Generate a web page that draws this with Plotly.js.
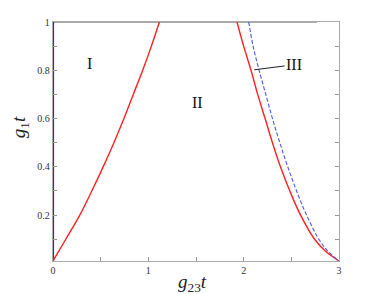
<!DOCTYPE html>
<html><head><meta charset="utf-8">
<script src="https://cdn.plot.ly/plotly-3.0.1.min.js"></script>
<style>body{margin:0;background:#fff}#c{width:374px;height:294px}</style>
</head><body><div id="c"></div><script>
// Boundary I/II (red, left)
const redLeftX = [0, 0.134, 0.281, 0.407, 0.526, 0.639, 0.744, 0.842, 0.941, 1.032, 1.116];
const redLeftY = [0.01, 0.1, 0.2, 0.3, 0.4, 0.5, 0.6, 0.7, 0.8, 0.9, 1.0];
// Boundary II/III (red, right)
const redRightX = [1.93, 2.0, 2.077, 2.147, 2.225, 2.302, 2.386, 2.484, 2.597, 2.744, 2.86, 3.0];
const redRightY = [1.0, 0.9, 0.8, 0.7, 0.6, 0.5, 0.4, 0.3, 0.2, 0.1, 0.05, 0.01];
// Dashed blue boundary
const blueDashX = [2.053, 2.099, 2.162, 2.232, 2.302, 2.379, 2.463, 2.555, 2.66, 2.789, 2.885, 3.0];
const blueDashY = [1.0, 0.9, 0.8, 0.7, 0.6, 0.5, 0.4, 0.3, 0.2, 0.1, 0.05, 0.01];
// Blue vertical at g23 t = 0
const blueVertX = [0, 0];
const blueVertY = [0.01, 1.0];
// Top dark line
const topX = [0, 2.77];
const topY = [1, 1];
const xTickVals = [0, 1, 2, 3];
const xTickText = ['0', '1', '2', '3'];
const yTickVals = [0.2, 0.4, 0.6, 0.8, 1];
const yTickText = ['0.2', '0.4', '0.6', '0.8', '1'];
const regionLabels = ['I', 'II', 'III'];
const regionX = [0.38, 1.52, 2.53];
const regionY = [0.83, 0.665, 0.823];
const xTitle = '<i>g</i><sub>23</sub><i>t</i>';
const yTitle = '<i>g</i><sub>1</sub><i>t</i>';

const traces = [
  {x: topX, y: topY, mode: 'lines', line: {color: '#555', width: 1.2}},
  {x: blueVertX, y: blueVertY, mode: 'lines', line: {color: '#2233cc', width: 2.2}},
  {x: redLeftX, y: redLeftY, mode: 'lines', line: {color: '#ff2020', width: 1.4, shape: 'spline'}},
  {x: redRightX, y: redRightY, mode: 'lines', line: {color: '#ff2020', width: 1.4, shape: 'spline'}},
  {x: blueDashX, y: blueDashY, mode: 'lines', line: {color: '#4a5ae8', width: 1.1, dash: '4px,2px', shape: 'spline'}}
];
const serif = 'Liberation Serif, Times New Roman, serif';
const layout = {
  width: 374, height: 294,
  margin: {l: 53, r: 35, t: 22, b: 33},
  showlegend: false,
  paper_bgcolor: '#fff', plot_bgcolor: '#fff',
  xaxis: {
    range: [0, 3], tickvals: xTickVals, ticktext: xTickText,
    ticks: 'inside', ticklen: 4, tickcolor: '#999', showgrid: false, zeroline: false,
    showline: true, linecolor: '#aaa', linewidth: 1.2, mirror: true,
    minor: {dtick: 0.5, ticks: 'inside', ticklen: 4, tickcolor: '#999'},
    tickfont: {family: serif, size: 10, color: '#333'}
  },
  yaxis: {
    range: [0.01, 1], tickvals: yTickVals, ticktext: yTickText,
    ticks: 'inside', ticklen: 4, tickcolor: '#999', showgrid: false, zeroline: false,
    showline: true, linecolor: '#aaa', linewidth: 1.2, mirror: 'ticks',
    minor: {dtick: 0.1, tick0: 0, ticks: 'inside', ticklen: 4, tickcolor: '#999'},
    tickfont: {family: serif, size: 10, color: '#333'}
  },
  annotations: [
    {x: regionX[0], y: regionY[0], text: regionLabels[0], showarrow: false, font: {family: serif, size: 16, color: '#111'}},
    {x: regionX[1], y: regionY[1], text: regionLabels[1], showarrow: false, font: {family: serif, size: 16, color: '#111'}},
    {x: 2.11, y: 0.802, ax: regionX[2], ay: regionY[2], axref: 'x', ayref: 'y', text: regionLabels[2],
     showarrow: true, arrowhead: 0, arrowwidth: 1, arrowcolor: '#222', font: {family: serif, size: 16, color: '#111'}},
    {xref: 'paper', yref: 'paper', x: 0.487, y: -0.09, yanchor: 'middle', text: xTitle, showarrow: false,
     font: {family: serif, size: 19, color: '#222'}},
    {xref: 'paper', yref: 'paper', x: -0.115, y: 0.56, xanchor: 'center', textangle: -90, text: yTitle, showarrow: false,
     font: {family: serif, size: 19, color: '#222'}}
  ]
};
Plotly.newPlot('c', traces, layout, {staticPlot: true, displayModeBar: false});
</script></body></html>
